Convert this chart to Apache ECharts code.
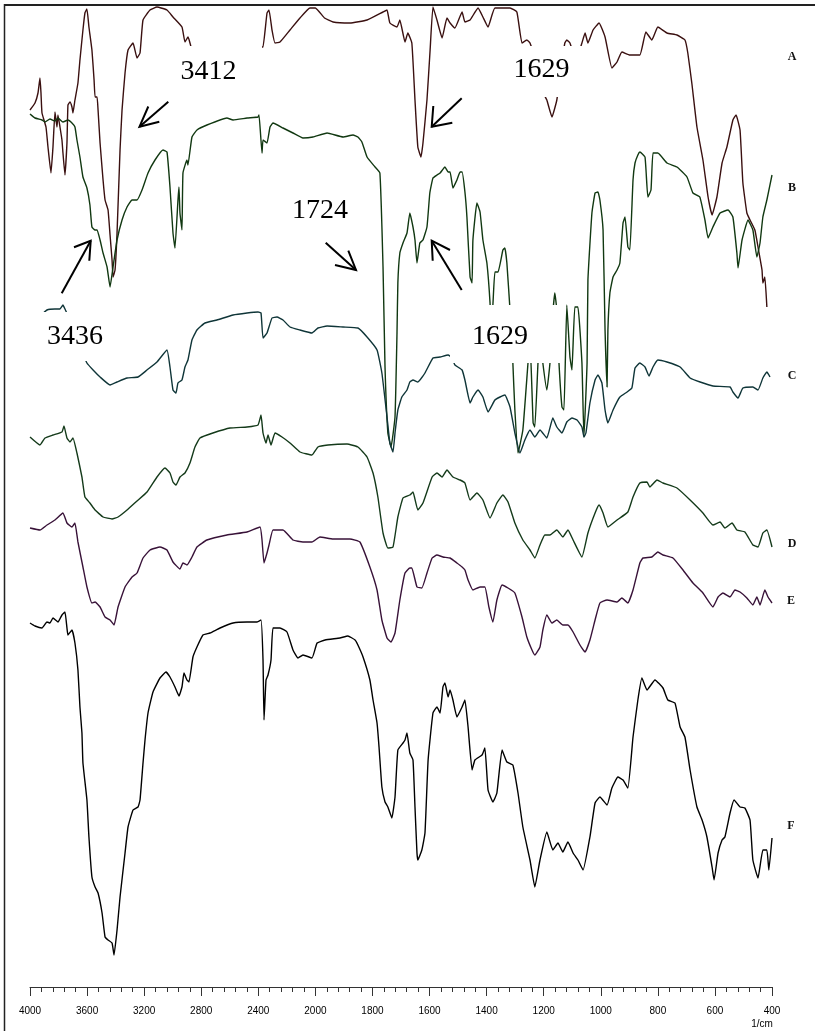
<!DOCTYPE html>
<html>
<head>
<meta charset="utf-8">
<script src="https://cdn.jsdelivr.net/npm/echarts/dist/echarts.min.js"></script>
<style>
  html, body { margin: 0; padding: 0; background: #fff; }
  #chart { width: 815px; height: 1031px; }
</style>
</head>
<body>
<div id="chart"></div>
<script>
// FTIR spectra, stacked with offsets: [wavenumber (1/cm), offset transmittance (a.u.)]
const spectrumA = [
  [4000,87.7],[3965,88.4],[3944,89.4],[3930,90.9],[3923,89.4],[3916,87.4],[3888,86.0],[3874,84.0],
  [3853,81.4],[3839,84.0],[3825,87.5],[3811,86.0],[3804,87.2],[3790,86.0],[3776,84.7],[3769,83.4],
  [3755,81.2],[3741,84.4],[3734,88.2],[3720,88.5],[3706,88.0],[3699,87.4],[3685,88.7],[3664,90.4],
  [3650,92.7],[3629,95.7],[3615,97.4],[3601,97.8],[3587,96.0],[3566,93.7],[3551,90.7],[3544,89.0],
  [3530,89.0],[3523,87.7],[3509,84.4],[3488,80.7],[3474,78.7],[3453,77.7],[3439,75.2],[3425,72.7],
  [3418,71.0],[3404,71.7],[3390,75.4],[3369,83.7],[3355,87.7],[3334,91.4],[3313,93.7],[3278,94.4],
  [3250,92.9],[3229,93.4],[3208,96.7],[3159,97.7],[3110,98.0],[3040,97.7],[2998,97.0],[2935,96.0],
  [2914,94.5],[2893,95.0],[2872,94.0],[2844,89.7],[2809,90.7],[2704,92.7],[2528,93.2],[2423,92.9],
  [2374,94.0],[2367,94.0],[2339,97.4],[2325,97.7],[2304,95.7],[2283,94.4],[2248,94.5],[2178,95.7],
  [2108,96.9],[2038,97.9],[2000,97.9],[1968,96.9],[1938,96.5],[1879,96.4],[1819,96.7],[1763,97.5],
  [1749,97.7],[1739,96.4],[1714,96.0],[1704,96.7],[1686,94.5],[1676,95.4],[1662,94.4],[1651,88.7],
  [1641,84.0],[1630,83.0],[1623,84.4],[1609,88.7],[1598,93.7],[1588,98.0],[1574,96.7],[1556,94.9],
  [1539,96.9],[1528,96.4],[1511,95.9],[1486,97.5],[1476,96.5],[1458,96.7],[1430,97.9],[1413,97.0],
  [1395,96.0],[1371,97.9],[1318,97.9],[1294,97.5],[1276,94.4],[1259,94.7],[1248,94.4],[1224,92.2],
  [1203,89.5],[1189,88.7],[1171,87.0],[1154,88.7],[1140,91.7],[1126,94.4],[1119,94.7],[1108,94.4],
  [1087,92.7],[1066,94.4],[1055,95.4],[1045,94.4],[1027,95.7],[1006,96.4],[985,95.0],[961,91.9],
  [943,92.5],[926,93.5],[898,93.2],[863,93.2],[842,95.5],[821,94.7],[800,96.0],[768,95.4],
  [733,95.2],[705,94.7],[695,93.4],[681,90.4],[663,86.0],[642,82.7],[624,79.0],[610,77.2],
  [593,79.0],[575,82.4],[558,84.0],[537,86.7],[526,87.2],[512,85.7],[502,80.4],[488,77.4],
  [477,76.7],[460,75.7],[449,74.0],[435,71.7],[432,70.4],[425,71.0],[418,68.0]
];

const spectrumB = [
  [4000,87.3],[3965,86.9],[3916,86.7],[3895,86.5],[3860,86.8],[3825,86.6],[3804,86.9],[3769,86.5],
  [3734,86.7],[3706,86.4],[3685,86.0],[3671,84.7],[3650,83.0],[3629,81.0],[3601,79.9],[3580,78.2],
  [3566,76.0],[3544,75.7],
  [3530,75.7],[3509,74.7],[3488,73.4],[3460,72.0],[3439,70.0],[3418,72.0],[3390,74.7],[3355,76.7],
  [3320,78.0],[3285,78.7],[3250,78.7],[3215,79.7],[3173,81.4],[3124,82.7],[3068,83.7],[3040,83.5],
  [3019,80.0],[2998,75.4],[2984,73.9],[2963,78.7],[2956,80.0],[2949,77.4],[2935,75.7],[2928,81.4],
  [2900,82.7],[2893,82.2],[2865,85.0],[2830,85.7],[2760,86.2],[2620,86.9],[2577,86.7],[2479,86.9],
  [2402,87.0],[2395,87.2],[2374,83.4],[2367,84.7],[2339,84.4],[2318,86.0],[2297,86.4],[2227,85.9],
  [2157,85.4],[2087,84.9],[2017,85.0],[1959,85.4],[1903,85.0],[1868,85.2],[1851,85.0],[1837,84.5],
  [1819,83.0],[1791,82.0],[1774,81.4],[1763,72.0],[1756,62.0],[1746,55.4],[1735,54.0],[1721,57.0],
  [1714,65.4],[1711,70.4],[1704,73.4],[1693,74.4],[1679,75.4],[1669,77.4],[1658,76.0],[1651,74.7],
  [1644,72.4],[1634,74.4],[1623,74.7],[1609,76.0],[1599,79.4],[1588,80.9],[1574,81.2],[1563,81.4],
  [1546,82.0],[1535,81.5],[1528,81.5],[1518,79.9],[1504,80.7],[1493,81.5],[1486,81.5],[1476,79.5],
  [1469,77.0],[1458,71.0],[1451,70.4],[1448,74.7],[1434,78.4],[1423,77.5],[1413,74.7],[1399,72.4],
  [1388,68.4],[1385,65.7],[1378,68.2],[1371,71.5],[1360,71.5],[1343,73.7],[1336,73.9],[1329,72.4],
  [1318,67.7],[1311,64.7],[1308,62.4],[1301,57.7],[1290,53.4],[1273,55.7],[1255,62.4],[1248,64.7],
  [1237,56.4],[1231,56.0],[1220,62.4],[1213,65.2],[1203,62.4],[1189,59.7],[1178,62.4],[1167,67.7],
  [1161,69.4],[1154,67.7],[1147,62.7],[1136,58.0],[1129,57.7],[1119,68.2],[1108,63.0],[1101,61.7],
  [1091,68.0],[1080,68.0],[1066,62.4],[1059,55.0],[1048,62.4],[1045,70.7],[1031,77.4],[1020,79.4],
  [1010,79.5],[1003,78.7],[992,75.7],[985,65.7],[978,60.0],[975,65.7],[968,69.4],[957,71.0],
  [943,71.7],[933,72.4],[922,76.4],[915,77.0],[905,74.0],[898,73.7],[887,80.7],[880,82.4],
  [870,83.2],[863,83.5],[845,83.0],[835,79.0],[824,79.7],[817,83.4],[800,83.4],[768,82.4],
  [733,82.0],[698,81.0],[677,79.4],[653,79.0],[635,76.7],[624,74.9],[607,76.0],[582,77.4],
  [554,77.7],[537,77.0],[523,73.4],[519,71.9],[505,74.7],[484,76.7],[467,75.7],[453,73.0],
  [442,74.4],[432,77.0],[418,78.7],[400,81.2]
];

const spectrumC = [
  [4000,66.9],[3930,67.1],[3881,67.7],[3825,67.8],[3790,67.8],[3769,68.2],[3755,67.8],[3720,66.7],
  [3664,64.5],[3601,62.4],[3558,61.7],[3509,61.0],[3439,60.2],[3390,60.5],[3320,60.9],[3243,61.0],
  [3180,61.7],[3110,62.5],[3040,63.7],[3019,62.0],[2998,59.7],[2977,59.4],[2963,60.4],[2935,60.7],
  [2914,62.0],[2893,62.7],[2865,64.7],[2830,65.7],[2774,66.4],[2690,66.7],[2577,67.2],[2479,67.4],
  [2402,67.5],[2381,67.4],[2367,64.9],[2339,65.4],[2304,66.9],[2269,67.0],[2227,66.7],[2178,66.0],
  [2108,65.7],[2024,65.4],[1991,65.9],[1959,66.1],[1903,66.0],[1851,65.9],[1819,65.0],[1784,63.7],
  [1767,61.4],[1749,57.0],[1739,54.4],[1728,53.5],[1721,55.4],[1711,57.7],[1697,59.0],[1679,59.7],
  [1669,60.5],[1658,60.7],[1641,60.5],[1616,61.4],[1588,62.9],[1563,63.0],[1535,63.2],[1521,62.9],
  [1511,62.2],[1486,61.7],[1476,60.7],[1458,58.4],[1448,59.0],[1430,59.7],[1413,59.0],[1395,57.5],
  [1371,58.7],[1353,59.0],[1336,59.2],[1318,58.0],[1301,55.4],[1283,53.4],[1266,54.7],[1248,55.7],
  [1231,55.0],[1213,55.7],[1189,54.9],[1168,56.9],[1154,56.0],[1136,55.4],[1119,56.5],[1101,56.9],
  [1083,56.7],[1066,56.0],[1059,55.0],[1052,55.4],[1038,58.4],[1020,60.7],[1010,61.2],[996,60.4],
  [985,57.7],[975,56.4],[957,57.7],[933,59.0],[908,59.5],[891,59.9],[880,61.9],[863,62.4],
  [845,62.0],[831,61.1],[817,62.0],[800,62.7],[768,62.5],[722,62.0],[687,60.9],[652,60.5],
  [607,60.1],[547,60.0],[537,59.5],[519,58.9],[502,59.9],[467,60.0],[449,59.7],[432,60.9],
  [418,61.5],[407,61.0]
];

const spectrumD = [
  [4000,55.0],[3930,54.2],[3895,54.9],[3839,55.2],[3776,55.5],[3762,56.1],[3741,54.9],[3720,54.5],
  [3699,54.9],[3671,53.4],[3636,51.0],[3615,49.0],[3580,48.4],[3544,47.7],[3488,47.0],[3425,46.8],
  [3383,47.0],[3320,47.7],[3250,48.6],[3180,49.5],[3110,51.0],[3054,51.9],[3019,51.4],[2998,50.5],
  [2977,50.2],[2949,51.0],[2914,51.4],[2879,52.4],[2844,54.0],[2809,54.9],[2718,55.4],[2598,55.9],
  [2479,56.0],[2402,56.2],[2381,57.2],[2367,55.4],[2346,54.4],[2332,55.2],[2311,54.2],[2283,55.4],
  [2234,55.0],[2178,54.4],[2108,53.5],[2024,53.2],[1991,54.0],[1956,54.2],[1889,54.3],[1851,54.0],
  [1819,53.0],[1798,51.4],[1781,49.0],[1763,45.4],[1746,43.9],[1728,44.0],[1711,47.0],[1693,48.9],
  [1669,49.2],[1658,49.5],[1641,47.7],[1623,48.4],[1591,51.0],[1574,51.4],[1556,51.0],[1539,51.7],
  [1518,51.0],[1493,50.7],[1476,50.4],[1458,48.7],[1434,49.4],[1413,48.7],[1388,46.9],[1364,48.4],
  [1343,49.2],[1325,48.5],[1301,46.4],[1273,44.7],[1248,43.7],[1231,42.9],[1213,44.2],[1196,45.2],
  [1178,45.2],[1154,45.7],[1133,45.0],[1115,45.7],[1097,44.7],[1066,43.0],[1045,45.4],[1020,47.4],
  [1006,48.2],[992,47.4],[975,46.0],[943,46.7],[905,47.5],[887,49.0],[863,50.4],[838,50.5],
  [828,50.0],[803,50.7],[782,50.4],[733,49.9],[687,48.7],[642,47.4],[607,46.2],[582,46.5],
  [565,45.9],[540,46.4],[523,45.7],[495,45.5],[467,44.2],[449,44.0],[432,45.4],[418,45.7],
  [400,44.0]
];

const spectrumE = [
  [4000,45.9],[3930,45.7],[3881,46.2],[3825,46.7],[3769,47.4],[3741,46.4],[3706,46.0],[3685,46.4],
  [3664,44.5],[3629,42.0],[3601,40.0],[3566,38.4],[3544,38.5],[3509,38.0],[3474,37.0],[3439,36.7],
  [3411,36.2],[3383,38.0],[3334,40.0],[3285,41.0],[3250,41.4],[3208,42.9],[3159,43.7],[3089,44.0],
  [3040,43.7],[2998,42.5],[2949,41.8],[2928,42.4],[2900,42.2],[2865,43.0],[2830,44.0],[2760,44.7],
  [2620,45.2],[2479,45.5],[2388,46.0],[2374,44.7],[2360,42.4],[2339,43.4],[2325,44.2],[2297,45.7],
  [2227,45.7],[2157,44.7],[2087,44.5],[2024,44.5],[1984,45.0],[1938,44.8],[1879,44.8],[1844,44.5],
  [1809,42.0],[1784,39.7],[1767,36.7],[1749,34.9],[1735,34.5],[1721,35.4],[1704,38.7],[1686,41.4],
  [1669,41.9],[1662,41.9],[1644,40.0],[1627,39.9],[1609,41.4],[1591,42.9],[1574,43.2],[1553,43.0],
  [1528,42.9],[1504,42.4],[1486,42.0],[1476,41.7],[1465,40.7],[1448,39.7],[1423,40.0],[1406,40.0],
  [1392,38.0],[1378,36.5],[1364,38.7],[1346,40.2],[1325,39.9],[1301,39.4],[1276,37.0],[1259,35.0],
  [1241,33.7],[1231,33.2],[1213,34.0],[1203,35.7],[1189,37.2],[1171,36.4],[1154,36.7],[1133,36.2],
  [1115,36.2],[1097,35.5],[1073,34.2],[1055,33.5],[1038,34.7],[1020,36.7],[1003,38.4],[978,38.7],
  [943,38.5],[926,38.9],[905,38.4],[887,39.7],[863,42.4],[852,42.9],[821,43.0],[800,43.5],
  [782,43.2],[747,42.9],[712,41.7],[677,40.4],[642,39.4],[607,38.0],[589,39.0],[572,39.4],
  [547,39.0],[530,39.7],[512,39.5],[488,38.9],[467,38.2],[453,39.0],[442,38.2],[425,39.7],
  [414,39.0],[400,38.4]
];

const spectrumF = [
  [4000,36.4],[3965,36.1],[3916,35.9],[3881,36.5],[3860,36.4],[3839,36.9],[3804,36.5],[3776,37.2],
  [3755,37.5],[3741,35.9],[3734,35.2],[3706,35.7],[3685,34.4],[3664,31.7],[3650,28.0],[3636,25.4],
  [3629,22.4],[3601,18.7],[3587,15.0],[3566,11.0],[3544,10.0],[3523,9.4],[3495,7.4],[3474,5.0],
  [3453,4.7],[3425,4.4],[3411,3.2],[3390,5.7],[3369,9.0],[3334,13.4],[3313,16.0],[3278,17.7],
  [3243,18.0],[3229,18.7],[3208,22.4],[3194,24.7],[3173,27.4],[3138,29.5],[3089,30.9],[3047,31.5],
  [3019,31.0],[2984,30.0],[2956,29.1],[2935,30.0],[2921,31.4],[2900,30.7],[2886,30.5],[2858,33.0],
  [2830,34.0],[2788,35.2],[2739,35.4],[2668,35.9],[2577,36.4],[2479,36.5],[2409,36.5],[2381,36.7],
  [2367,32.7],[2360,26.7],[2346,30.7],[2332,31.2],[2311,32.7],[2297,35.9],[2248,35.9],[2199,35.5],
  [2157,33.7],[2122,32.9],[2087,33.2],[2024,32.9],[1994,34.4],[1966,34.7],[1914,34.9],[1886,35.1],
  [1861,34.7],[1851,34.2],[1833,33.0],[1809,30.7],[1798,28.7],[1784,26.4],[1777,24.0],[1767,20.0],
  [1756,18.5],[1746,18.0],[1732,16.9],[1721,19.0],[1711,23.7],[1693,24.4],[1686,24.7],[1679,25.4],
  [1669,23.4],[1658,22.7],[1651,18.0],[1644,13.4],[1641,12.7],[1627,13.7],[1616,15.4],[1605,22.7],
  [1588,27.4],[1574,28.0],[1563,27.4],[1553,30.0],[1546,30.4],[1535,29.0],[1528,29.7],[1518,28.7],
  [1504,27.0],[1486,28.0],[1476,28.7],[1465,26.0],[1451,21.7],[1441,22.7],[1416,23.2],[1406,23.9],
  [1395,19.7],[1378,18.5],[1364,19.4],[1346,23.7],[1329,22.5],[1308,22.2],[1290,19.4],[1273,16.0],
  [1248,12.7],[1231,10.0],[1213,12.7],[1189,15.5],[1168,13.7],[1150,14.4],[1133,13.5],[1115,14.5],
  [1097,13.4],[1080,12.7],[1062,11.7],[1038,15.0],[1020,18.4],[1003,19.0],[978,18.2],[961,19.9],
  [940,21.0],[922,20.7],[905,19.9],[887,25.0],[870,28.7],[856,30.9],[838,29.7],[810,30.7],
  [782,29.9],[765,28.7],[740,28.4],[722,26.0],[705,25.0],[687,21.7],[663,18.0],[645,16.7],
  [628,15.0],[610,12.0],[603,10.7],[589,13.4],[575,14.7],[565,15.0],[547,17.4],[533,18.7],
  [512,18.0],[495,17.9],[477,16.7],[467,12.7],[449,10.9],[432,13.7],[418,13.7],[411,11.7],
  [400,14.9]
];

const seriesNames = ['A', 'B', 'C', 'D', 'E', 'F'];
const seriesData = [spectrumA, spectrumB, spectrumC, spectrumD, spectrumE, spectrumF];
const seriesColors = ['#3a1010', '#113811', '#0f3538', '#143a1a', '#381238', '#000000'];

// Peak annotation texts
const peakLabels = ['3412', '1629', '1724', '3436', '1629'];

// Axis: 4000-2000 drawn at half the scale of 2000-400 (spectrometer style)
const SPLIT = 2000;
const toAxis = w => (w > SPLIT ? SPLIT + (w - SPLIT) / 2 : w);
const fromAxis = v => (v > SPLIT ? SPLIT + (v - SPLIT) * 2 : v);

const chart = echarts.init(document.getElementById('chart'), null, { renderer: 'canvas' });

const series = seriesData.map((d, i) => ({
  name: seriesNames[i],
  type: 'line',
  data: d.map(([w, t]) => [toAxis(w), t]),
  showSymbol: false,
  smooth: 0.12,
  clip: true,
  lineStyle: { color: seriesColors[i], width: 1.4 },
  emphasis: { disabled: true },
  z: 2
}));

const serif = '"Liberation Serif", "Times New Roman", serif';

function arrow(tail, tip, b1, b2) {
  return [
    { type: 'line', z: 120, shape: { x1: tail[0], y1: tail[1], x2: tip[0], y2: tip[1] },
      style: { stroke: '#000', lineWidth: 2 } },
    { type: 'polyline', z: 120, shape: { points: [b1, tip, b2] },
      style: { stroke: '#000', lineWidth: 2, fill: null } }
  ];
}

function whiteBox(x, y, w, h) {
  return { type: 'rect', z: 100, shape: { x, y, width: w, height: h },
    style: { fill: '#fff', stroke: null } };
}

function bigText(txt, x, y) {
  return { type: 'text', z: 110,
    style: { text: txt, x, y, textAlign: 'center', textVerticalAlign: 'middle',
      font: '28px ' + serif, fill: '#000' } };
}

const seriesLabelPos = [[792, 57], [792, 188], [792, 376], [792, 544], [791, 601], [791, 826]];

const graphic = [
  // frame
  { type: 'line', z: 130, shape: { x1: 4, y1: 5, x2: 815, y2: 5 }, style: { stroke: '#222', lineWidth: 2 } },
  { type: 'line', z: 130, shape: { x1: 4.5, y1: 4, x2: 4.5, y2: 1031 }, style: { stroke: '#222', lineWidth: 1.5 } },
  // label backgrounds
  whiteBox(178, 46, 84, 52),
  whiteBox(512, 46, 70, 51),
  whiteBox(28, 312, 80, 49),
  whiteBox(450, 305, 110, 58),
  bigText(peakLabels[0], 208.5, 72),
  bigText(peakLabels[1], 541.5, 70),
  bigText(peakLabels[2], 320, 211),
  bigText(peakLabels[3], 75, 337),
  bigText(peakLabels[4], 500, 337),
  ...arrow([168.3, 101.7], [139.5, 126.7], [148.3, 106.5], [159.3, 121.7]),
  ...arrow([61.7, 293.3], [90.7, 240.7], [74, 247.3], [89.3, 260.7]),
  ...arrow([325.7, 242.7], [356, 270], [335, 265], [348.3, 250.7]),
  ...arrow([461.7, 98.3], [431.7, 126.7], [433.3, 106], [452.3, 122.7]),
  ...arrow([461.7, 290], [431.7, 240.7], [432.7, 260.7], [450, 250]),
  // series letters
  ...seriesNames.map((n, i) => ({
    type: 'text', z: 110,
    style: { text: n, x: seriesLabelPos[i][0], y: seriesLabelPos[i][1], textAlign: 'center',
      textVerticalAlign: 'middle', font: 'bold 12px ' + serif, fill: '#111' }
  })),
  // unit
  { type: 'text', z: 110,
    style: { text: '1/cm', x: 762, y: 1024, textAlign: 'center', textVerticalAlign: 'middle',
      font: '10px "Liberation Sans", Arial, sans-serif', fill: '#000' } }
];

chart.setOption({
  animation: false,
  backgroundColor: '#fff',
  grid: { left: 30, right: 43, top: 5, bottom: 44, containLabel: false },
  xAxis: {
    type: 'value',
    inverse: true,
    min: 400,
    max: 3000,
    interval: 200,
    axisLine: { show: true, onZero: false, lineStyle: { color: '#333', width: 1 } },
    axisTick: { show: true, length: 9, lineStyle: { color: '#333', width: 1 } },
    minorTick: { show: true, splitNumber: 5, length: 5, lineStyle: { color: '#333', width: 1 } },
    splitLine: { show: false },
    axisLabel: {
      margin: 19,
      fontFamily: '"Liberation Sans", Arial, sans-serif',
      fontSize: 10,
      color: '#000',
      formatter: v => String(Math.round(fromAxis(v)))
    }
  },
  yAxis: { type: 'value', min: 0, max: 98.2, show: false },
  series,
  graphic
});
</script>
</body>
</html>
